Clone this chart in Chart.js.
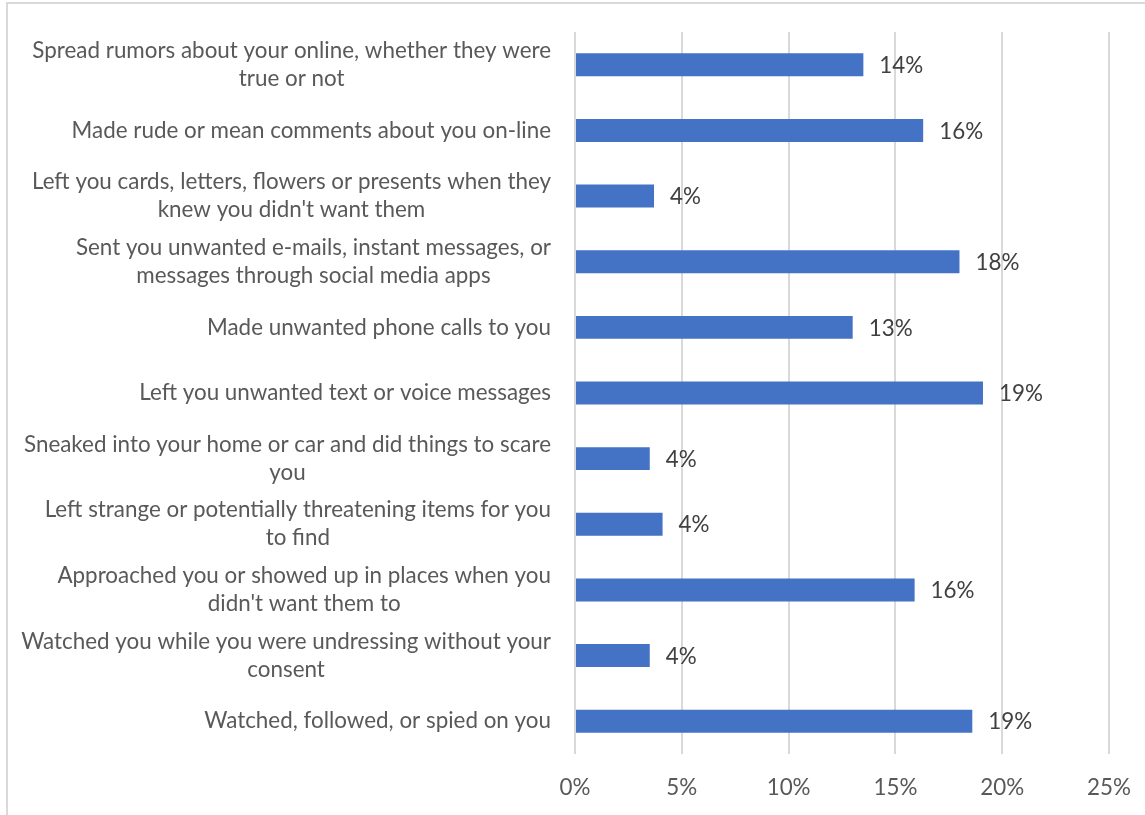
<!DOCTYPE html>
<html>
<head>
<meta charset="utf-8">
<script src="https://cdn.jsdelivr.net/npm/chart.js@4/dist/chart.umd.min.js"></script>
<style>
  html, body { margin: 0; padding: 0; background: #ffffff; }
  #wrap { position: relative; width: 1145px; height: 815px; }
</style>
</head>
<body>
<div id="wrap"><canvas id="chart" width="1145" height="815"></canvas></div>
<script>
// Stalking behaviours experienced (share of respondents)
const categories = [
  ["Spread rumors about your online, whether they were", "true or not"],
  ["Made rude or mean comments about you on-line"],
  ["Left you cards, letters, flowers or presents when they", "knew you didn't want them"],
  ["Sent you unwanted e-mails, instant messages, or", "messages through social media apps"],
  ["Made unwanted phone calls to you"],
  ["Left you unwanted text or voice messages"],
  ["Sneaked into your home or car and did things to scare", "you"],
  ["Left strange or potentially threatening items for you", "to find"],
  ["Approached you or showed up in places when you", "didn't want them to"],
  ["Watched you while you were undressing without your", "consent"],
  ["Watched, followed, or spied on you"]
];
const percentages = [13.5, 16.3, 3.7, 18.0, 13.0, 19.1, 3.5, 4.1, 15.9, 3.5, 18.6];
const axisTicks = [0, 5, 10, 15, 20, 25];

const FONT = "Lato, 'Open Sans', sans-serif";
const FONT_SIZE = 22.4;
const LABEL_RIGHT = 551;

// Light frame around the chart area (left and top edges)
const framePlugin = {
  id: 'frame',
  beforeDraw(chart) {
    const ctx = chart.ctx;
    ctx.save();
    ctx.strokeStyle = '#d9d9d9';
    ctx.lineWidth = 2;
    ctx.beginPath();
    ctx.moveTo(7, 815);
    ctx.lineTo(7, 3);
    ctx.lineTo(1145, 3);
    ctx.stroke();
    ctx.restore();
  }
};

// Category labels: block right-aligned to the axis, lines centred within the block
const categoryLabelPlugin = {
  id: 'categoryLabels',
  afterDraw(chart) {
    const ctx = chart.ctx;
    const yScale = chart.scales.y;
    ctx.save();
    ctx.font = FONT_SIZE + 'px ' + FONT;
    ctx.fillStyle = '#595959';
    ctx.textAlign = 'center';
    ctx.textBaseline = 'middle';
    const lineH = 28;
    categories.forEach((lines, i) => {
      const y = yScale.getPixelForValue(i);
      const w = Math.max(...lines.map(l => ctx.measureText(l).width));
      const cx = LABEL_RIGHT - w / 2;
      const top = y - (lines.length - 1) * lineH / 2;
      lines.forEach((l, j) => ctx.fillText(l, cx, top + j * lineH));
    });
    ctx.restore();
  }
};

// Value labels to the right of each bar
const valueLabelPlugin = {
  id: 'valueLabels',
  afterDatasetsDraw(chart) {
    const ctx = chart.ctx;
    const meta = chart.getDatasetMeta(0);
    ctx.save();
    ctx.font = FONT_SIZE + 'px ' + FONT;
    ctx.fillStyle = '#404040';
    ctx.textAlign = 'left';
    ctx.textBaseline = 'middle';
    meta.data.forEach((bar, i) => {
      ctx.fillText(Math.round(percentages[i]) + '%', bar.x + 16, bar.y + 1);
    });
    ctx.restore();
  }
};

new Chart(document.getElementById('chart'), {
  type: 'bar',
  data: {
    labels: categories,
    datasets: [{
      data: percentages,
      backgroundColor: '#4472c4',
      borderWidth: 0,
      categoryPercentage: 1,
      barPercentage: 0.35
    }]
  },
  options: {
    indexAxis: 'y',
    responsive: false,
    animation: false,
    layout: { padding: { left: 575, right: 36, top: 32, bottom: 0 } },
    plugins: { legend: { display: false }, tooltip: { enabled: false } },
    scales: {
      y: { display: false },
      x: {
        min: 0,
        max: 25,
        afterBuildTicks(scale) { scale.ticks = axisTicks.map(v => ({ value: v })); },
        afterFit(scale) {
          scale.height = 61;
          scale.paddingLeft = 0;
          scale.paddingRight = 0;
        },
        grid: { color: '#d9d9d9', lineWidth: 2, drawTicks: false },
        border: { display: false },
        ticks: {
          padding: 20,
          color: '#595959',
          font: { family: FONT, size: FONT_SIZE },
          callback: v => v + '%'
        }
      }
    }
  },
  plugins: [framePlugin, categoryLabelPlugin, valueLabelPlugin]
});
</script>
</body>
</html>
